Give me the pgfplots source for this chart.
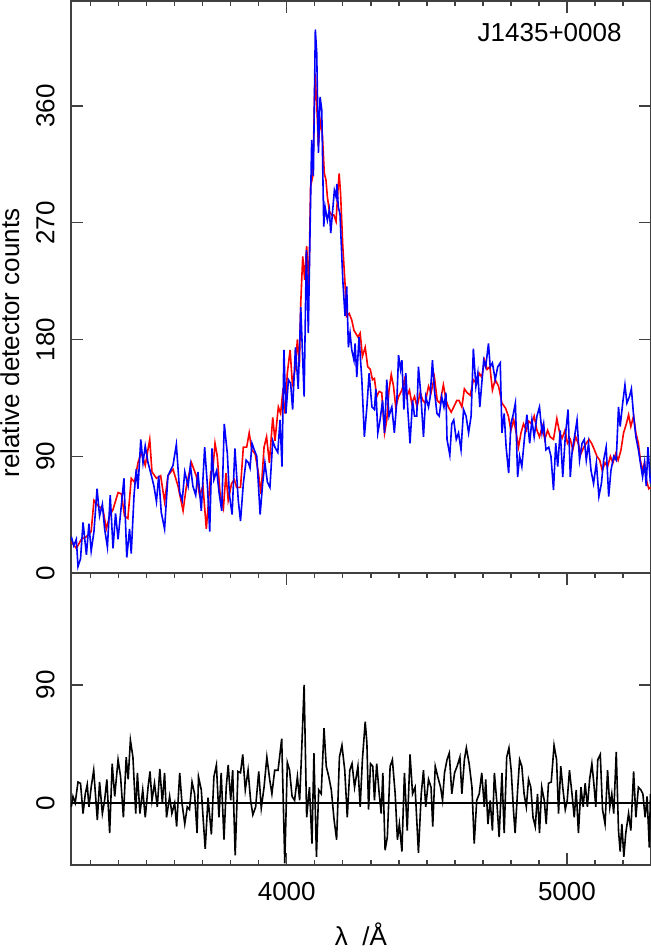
\documentclass[border=0pt]{standalone}
\usepackage{fontspec}
\setmainfont{Liberation Sans}
\usepackage{pgfplots}
\pgfplotsset{compat=1.18}

% observed spectrum (red), model (blue), residual (black)
\pgfplotstableread{
lam val
3231 24
3249 19
3267 26
3285 28
3302 32
3312 56
3326 52
3344 49
3356 34
3368 44
3380 49
3398 62
3410 61
3421 44
3433 42
3445 73
3457 70
3469 85
3481 93
3495 83
3511 103
3519 78
3535 73
3550 75
3564 55
3576 75
3594 80
3612 67
3630 48
3642 67
3660 85
3677 75
3689 60
3701 67
3713 34
3729 78
3736 79
3744 100
3752 90
3762 61
3774 50
3783 77
3791 56
3803 69
3813 72
3821 66
3835 66
3845 97
3857 97
3866 108
3875 95
3887 92
3899 77
3908 61
3919 97
3928 105
3938 85
3950 120
3958 102
3970 128
3978 123
3985 138
3994 123
4002 154
4012 172
4020 146
4029 156
4038 180
4045 159
4050 208
4057 244
4064 226
4071 252
4079 221
4085 298
4093 306
4101 385
4107 362
4113 329
4119 349
4127 339
4134 308
4140 303
4145 290
4152 279
4160 276
4168 276
4176 271
4182 293
4187 308
4192 293
4200 252
4208 223
4214 198
4223 200
4232 195
4240 187
4254 182
4262 185
4270 167
4280 174
4289 159
4298 157
4306 149
4313 150
4321 136
4330 140
4339 139
4349 108
4357 118
4365 141
4373 153
4381 144
4389 128
4399 136
4411 141
4420 149
4428 136
4438 141
4446 131
4456 136
4465 128
4476 139
4486 133
4494 131
4506 144
4515 139
4527 151
4537 133
4547 131
4559 145
4569 133
4577 128
4587 124
4596 128
4607 133
4615 133
4625 128
4634 142
4644 139
4655 137
4666 149
4678 146
4687 154
4696 151
4706 164
4715 157
4725 159
4734 141
4744 149
4756 144
4768 131
4781 127
4791 121
4800 110
4810 118
4819 108
4827 97
4836 108
4845 115
4855 110
4864 117
4874 115
4883 121
4893 110
4902 105
4912 113
4921 103
4931 110
4940 105
4952 103
4964 119
4974 108
4983 104
4993 110
5002 100
5012 103
5021 95
5031 105
5040 100
5050 92
5060 97
5069 100
5079 103
5088 100
5098 95
5107 90
5117 87
5126 79
5136 85
5145 82
5155 90
5164 85
5174 92
5183 87
5193 95
5202 108
5212 115
5220 122
5228 113
5238 121
5246 108
5255 100
5262 87
5270 79
5277 85
5283 72
5292 65
5298 66
}\redspec

\pgfplotstableread{
lam val
3231 28
3240 21
3249 26
3255 5
3264 11
3273 39
3285 14
3294 38
3302 17
3312 32
3323 65
3332 44
3342 53
3350 34
3360 20
3370 60
3380 19
3389 46
3398 26
3410 53
3419 73
3429 12
3439 34
3445 15
3455 60
3463 80
3469 65
3479 103
3487 85
3495 98
3505 85
3517 75
3526 67
3535 55
3543 75
3552 47
3564 34
3576 75
3594 83
3606 99
3618 62
3627 56
3636 78
3648 67
3656 83
3665 67
3675 60
3683 78
3695 48
3707 97
3717 67
3725 32
3733 96
3740 72
3750 79
3759 61
3768 48
3777 115
3788 92
3795 61
3805 45
3815 96
3827 56
3835 40
3845 69
3855 87
3863 85
3869 81
3876 100
3884 95
3893 90
3905 45
3914 69
3922 85
3931 70
3940 66
3950 102
3958 97
3968 93
3976 118
3983 82
3990 172
3997 123
4006 149
4014 146
4021 126
4031 174
4041 142
4050 205
4062 136
4070 249
4077 185
4083 262
4089 334
4095 306
4102 419
4107 401
4113 324
4119 367
4125 357
4132 267
4137 282
4145 272
4152 280
4157 262
4164 280
4170 295
4176 290
4179 300
4184 282
4190 277
4200 226
4208 198
4214 221
4220 174
4226 185
4232 172
4240 164
4244 177
4250 151
4258 182
4268 149
4277 105
4286 128
4294 154
4304 128
4313 126
4318 142
4325 108
4333 118
4342 133
4349 108
4357 149
4365 121
4375 128
4384 108
4393 133
4399 168
4406 157
4411 164
4418 126
4425 154
4432 126
4440 100
4449 133
4456 121
4464 121
4470 159
4478 139
4488 105
4496 136
4506 128
4512 136
4520 164
4527 141
4536 123
4544 121
4553 136
4561 128
4568 139
4572 103
4582 91
4589 115
4596 118
4605 103
4613 108
4622 95
4631 126
4640 121
4649 108
4658 121
4666 173
4675 144
4682 154
4689 128
4696 146
4703 164
4710 159
4720 177
4726 159
4734 162
4744 149
4753 159
4762 162
4768 108
4776 123
4783 97
4792 77
4800 115
4807 121
4816 131
4824 74
4831 90
4839 82
4848 103
4857 122
4867 100
4875 118
4883 105
4893 121
4902 128
4911 108
4917 115
4925 95
4935 97
4943 90
4952 64
4960 100
4967 82
4976 110
4985 74
4994 105
5004 126
5012 74
5019 95
5027 105
5036 118
5045 87
5054 100
5062 103
5069 87
5077 100
5086 79
5095 69
5105 85
5114 59
5123 69
5131 87
5140 97
5149 59
5157 79
5167 90
5176 87
5184 128
5190 113
5199 131
5207 145
5214 131
5223 136
5230 142
5238 121
5246 105
5255 95
5262 85
5270 74
5277 85
5283 67
5289 97
5298 69
}\bluespec

\pgfplotstableread{
lam val
3231 -3
3237 5
3245 0
3255 16
3264 15
3273 -8
3281 7
3288 14
3294 -3
3302 12
3311 25
3324 -13
3332 16
3342 -8
3350 2
3358 18
3368 -23
3377 30
3386 5
3398 33
3407 20
3417 -11
3427 35
3434 18
3442 48
3451 35
3461 -8
3467 23
3476 -8
3486 10
3495 -11
3505 12
3512 24
3519 2
3528 15
3538 -3
3547 26
3556 0
3564 23
3571 -11
3582 5
3590 -8
3600 0
3607 -18
3618 23
3626 0
3636 -16
3645 -3
3653 -5
3662 16
3671 7
3680 -23
3685 20
3695 10
3702 -13
3709 -35
3719 4
3731 -24
3740 20
3749 29
3758 -11
3766 23
3776 -28
3784 12
3791 29
3800 2
3807 25
3816 -40
3826 24
3835 23
3843 37
3852 10
3862 25
3871 2
3879 -9
3889 -3
3900 24
3909 -4
3919 12
3929 35
3939 18
3947 7
3957 25
3969 25
3982 49
3993 -46
4002 31
4010 25
4019 5
4028 2
4038 20
4046 2
4052 33
4062 90
4071 -11
4081 12
4090 -31
4097 38
4106 -41
4114 10
4123 7
4133 57
4141 28
4150 20
4159 10
4169 -13
4178 -28
4188 35
4197 44
4207 25
4216 -11
4225 25
4233 30
4242 12
4254 28
4262 -3
4270 33
4280 62
4286 46
4292 -5
4299 30
4307 28
4313 2
4321 30
4330 7
4337 -8
4343 23
4351 -36
4359 -26
4369 28
4377 33
4387 7
4395 -28
4402 -16
4411 -37
4420 23
4430 -21
4440 37
4449 7
4458 12
4470 -38
4480 7
4488 25
4496 -3
4506 18
4515 12
4521 -18
4530 28
4539 20
4549 12
4556 2
4563 23
4572 33
4580 38
4589 7
4599 23
4608 28
4618 35
4625 7
4634 33
4641 42
4651 30
4661 12
4669 -31
4678 2
4687 7
4696 23
4705 -3
4710 18
4718 -16
4726 2
4734 -21
4741 23
4750 0
4758 -26
4768 23
4776 -23
4785 35
4793 42
4801 25
4809 -5
4815 -23
4824 10
4831 33
4839 28
4847 7
4855 -3
4863 18
4871 12
4879 -11
4887 -18
4895 7
4902 -23
4910 12
4919 2
4926 -16
4934 15
4944 16
4954 44
4963 33
4970 -8
4978 28
4985 12
4994 -5
5001 2
5009 25
5018 7
5026 -11
5033 10
5041 -23
5050 12
5058 -3
5065 15
5073 -3
5081 18
5089 30
5096 15
5103 -3
5110 33
5119 37
5127 -5
5136 -16
5145 25
5153 -3
5160 7
5167 -8
5176 39
5184 -21
5190 -37
5196 -16
5203 -41
5210 -23
5220 -8
5228 -21
5238 24
5246 -11
5255 12
5264 10
5271 7
5279 -11
5286 5
5294 -34
5298 7
}\resid

\begin{document}
\fontsize{13}{15}\selectfont
\begin{tikzpicture}
\pgfplotsset{
  spec/.style={
    scale only axis, width=290pt,
    xmin=3230, xmax=5300,
    axis line style={black!75, line width=0.8pt},
    tick style={black!75, line width=0.7pt},
    major tick length=6pt, minor tick length=2.5pt,
    tick align=inside,
    xtick={4000,5000},
    minor xtick={3300,3400,...,5200},
    yticklabel style={rotate=90, anchor=south, inner sep=0pt},
    yticklabel shift=8pt,
    xticklabel style={anchor=north, inner sep=0pt},
    xticklabel shift=8.5pt,
    /pgf/number format/assume math mode=true,
    /pgf/number format/1000 sep={},
    tick label style={font=\fontsize{13}{15}\selectfont},
  }
}
\begin{axis}[spec, name=top, height=286pt,
    ymin=0, ymax=441, ytick={0,90,180,270,360},
    xtick pos=right, xticklabel=\empty]
\addplot[red, line width=0.8pt] table[x=lam, y=val] {\redspec};
\addplot[blue, line width=0.8pt] table[x=lam, y=val] {\bluespec};
\end{axis}
\begin{axis}[spec, name=bot, at={(top.south west)}, anchor=north west,
    height=146pt, ymin=-47.3, ymax=175.4, ytick={0,90}]
\addplot[black, line width=0.6pt] coordinates {(3230,0) (5300,0)};
\addplot[black, line width=0.8pt] table[x=lam, y=val] {\resid};
\end{axis}
\node[anchor=north east, inner sep=0pt] at ([xshift=-14.5pt, yshift=-11pt]top.north east) {J1435+0008};
\node[rotate=90, anchor=north, inner sep=0pt] at ([xshift=-35.5pt, yshift=-171pt]top.north west) {relative detector counts};
\node[anchor=base, inner sep=0pt] at ([yshift=-40pt]bot.south) {λ\ \ /Å};
\pgfresetboundingbox
\path[use as bounding box] ([xshift=-35.5pt, yshift=0.5pt]top.north west) rectangle ([yshift=-43.5pt]bot.south east);
\end{tikzpicture}
\end{document}
